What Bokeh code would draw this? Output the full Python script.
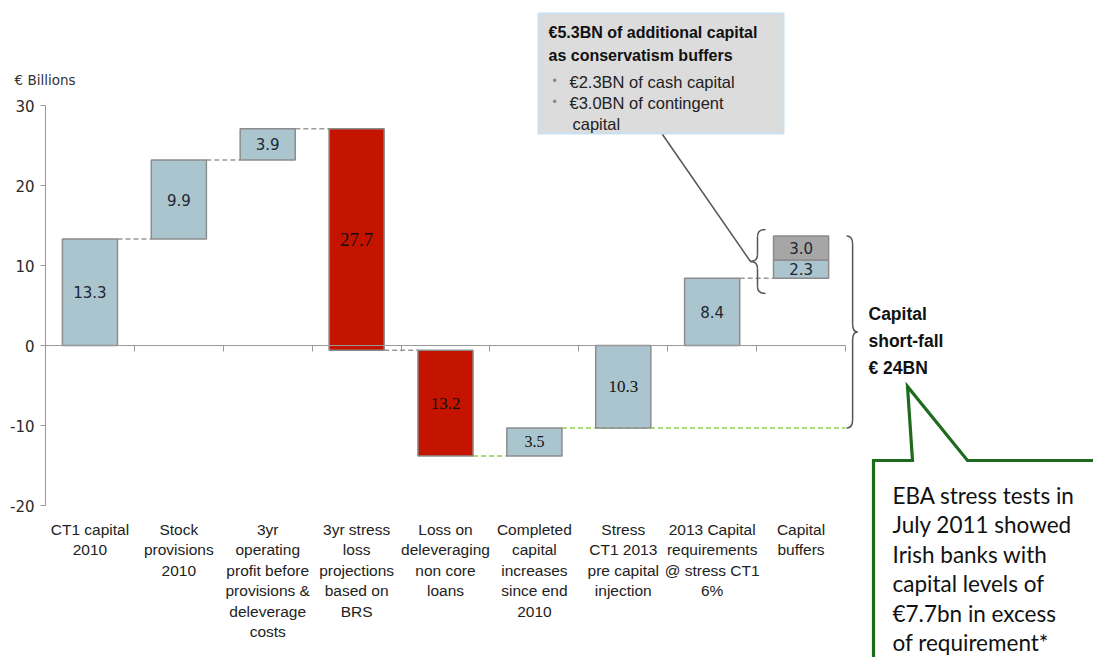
from bokeh.plotting import figure
from bokeh.models import Range1d, LinearAxis, FixedTicker, CustomJSTickFormatter
from bokeh.embed import file_html
from bokeh.resources import INLINE
from bokeh.core.properties import value

# ---------------- data ----------------
categories = [
    "CT1 capital\n2010",
    "Stock\nprovisions\n2010",
    "3yr\noperating\nprofit before\nprovisions &\ndeleverage\ncosts",
    "3yr stress\nloss\nprojections\nbased on\nBRS",
    "Loss on\ndeleveraging\nnon core\nloans",
    "Completed\ncapital\nincreases\nsince end\n2010",
    "Stress\nCT1 2013\npre capital\ninjection",
    "2013 Capital\nrequirements\n@ stress CT1\n6%",
    "Capital\nbuffers",
]
steps = [13.3, 9.9, 3.9, -27.7, -13.2, 3.5]      # waterfall movements (first six columns)
requirement = 8.4                                 # 2013 capital requirement
buffers = [2.3, 3.0]                              # cash capital, contingent capital
y_ticks = [-20, -10, 0, 10, 20, 30]

# ---------------- styles ----------------
BLUE = "#abc5cf"
RED = "#c41400"
GREY = "#a6a6a6"
EDGE = "#8c8c8c"
SANS = "Liberation Sans"
VERD = "DejaVu Sans"
SERIF = "Liberation Serif"

W, H = 1093, 657
LEFT = 45
PXX = 800 / 9.0        # pixels per category
PXY = 8.0              # pixels per unit
ZERO_PX = 345

def X(px):
    return (px - LEFT) / PXX

def Y(py):
    return (ZERO_PX - py) / PXY

p = figure(width=W, height=H, output_backend="svg", toolbar_location=None,
           x_range=Range1d(X(0), X(W)), y_range=Range1d(Y(H), Y(0)),
           x_axis_type=None, y_axis_type=None,
           min_border_left=0, min_border_right=0, min_border_top=0, min_border_bottom=0)
p.outline_line_color = None
p.grid.visible = False
p.background_fill_color = "white"
p.border_fill_color = "white"

# ---------------- waterfall geometry ----------------
n = len(categories)
centers = [i + 0.5 for i in range(n)]
bw = 0.62
bottoms, tops, colors, labels = [], [], [], []
cum = 0.0
levels = []
for v in steps:
    start = cum
    cum = round(cum + v, 2)
    bottoms.append(min(start, cum)); tops.append(max(start, cum))
    colors.append(BLUE if v > 0 else RED)
    labels.append(abs(v))
    levels.append(cum)
stress = cum
bottoms.append(min(0, stress)); tops.append(max(0, stress)); colors.append(BLUE); labels.append(abs(stress))
bottoms.append(0); tops.append(requirement); colors.append(BLUE); labels.append(requirement)

# connectors (drawn first, under bars)
conn_colors = ["#999999", "#999999", "#999999", "#999999", "#8fd14f", "#8fd14f"]
for i in range(len(steps) - 1):
    x0 = centers[i] + bw / 2
    x1 = centers[i + 1] - bw / 2
    p.line([x0, x1], [levels[i], levels[i]], line_color=conn_colors[i], line_dash="5 3", line_width=1.5)
p.line([centers[len(steps) - 1] + bw / 2, n], [stress, stress], line_color=conn_colors[-1],
       line_dash="5 3", line_width=1.5)
p.line([centers[7] + bw / 2, centers[8] - bw / 2], [requirement, requirement],
       line_color="#999999", line_dash="5 3", line_width=1.5)

p.vbar(x=centers[:8], width=bw, bottom=bottoms, top=tops, fill_color=colors,
       line_color=EDGE, line_width=1.5)

buf_bottoms, buf_tops = [], []
b = requirement
for v in buffers:
    buf_bottoms.append(b); b = round(b + v, 2); buf_tops.append(b)
buf_top = b
p.vbar(x=[centers[8]] * len(buffers), width=bw, bottom=buf_bottoms, top=buf_tops,
       fill_color=[BLUE, GREY], line_color=EDGE, line_width=1.5)

# value labels
serif_idx = {3, 4, 5, 6}
mid = [(bottoms[i] + tops[i]) / 2 for i in range(8)]
sx = [centers[i] for i in range(8) if i not in serif_idx]
sy = [mid[i] for i in range(8) if i not in serif_idx]
st = ["%.1f" % labels[i] for i in range(8) if i not in serif_idx]
p.text(x=sx, y=sy, text=st, text_font=value(VERD), text_font_size=value("15px"),
       text_align="center", text_baseline="middle", text_color="#1c2733")
serif_sizes = {3: "19px", 4: "17px", 5: "16px", 6: "17px"}
for i in sorted(serif_idx):
    p.text(x=[centers[i]], y=[mid[i]], text=["%.1f" % labels[i]], text_font=value(SERIF),
           text_font_size=value(serif_sizes[i]), text_align="center", text_baseline="middle",
           text_color="#111111")
p.text(x=[centers[8]] * len(buffers), y=[(a + c) / 2 for a, c in zip(buf_bottoms, buf_tops)],
       text=["%.1f" % v for v in buffers], text_font=value(VERD), text_font_size=value("15px"),
       text_align="center", text_baseline="middle", text_color="#1c2733")

# ---------------- axes ----------------
yax = LinearAxis(ticker=FixedTicker(ticks=y_ticks), bounds=(min(y_ticks), max(y_ticks)),
                 fixed_location=0,
                 formatter=CustomJSTickFormatter(code="return tick.toFixed(0);"))
yax.axis_line_color = "#9a9a9a"
yax.major_tick_line_color = "#9a9a9a"
yax.major_tick_out = 5
yax.major_tick_in = 0
yax.minor_tick_line_color = None
yax.major_label_text_font = VERD
yax.major_label_text_font_size = "15px"
yax.major_label_text_color = "#2a2a2a"
yax.major_label_standoff = 6
p.add_layout(yax, "left")

zax = LinearAxis(ticker=FixedTicker(ticks=list(range(1, n + 1))), bounds=(0, n), fixed_location=0)
zax.axis_line_color = "#9a9a9a"
zax.major_tick_line_color = "#9a9a9a"
zax.major_tick_out = 6
zax.major_tick_in = 0
zax.minor_tick_line_color = None
zax.major_label_text_color = None
p.add_layout(zax, "below")

cax = LinearAxis(ticker=FixedTicker(ticks=centers), fixed_location=min(y_ticks),
                 formatter=CustomJSTickFormatter(args=dict(cats=categories),
                                                 code="const i = Math.floor(tick); return (i >= 0 && i < cats.length) ? cats[i] : '';"))
cax.axis_line_color = None
cax.major_tick_line_color = None
cax.minor_tick_line_color = None
cax.major_label_text_font = SANS
cax.major_label_text_font_size = "15.5px"
cax.major_label_text_color = "#222222"
cax.major_label_text_line_height = 1.21
cax.major_label_standoff = 9
p.add_layout(cax, "below")

p.text(x=[X(14)], y=[Y(79)], text=["€ Billions"], text_font=value(VERD),
       text_font_size=value("13.5px"), text_color="#333333", text_baseline="alphabetic")

# ---------------- braces ----------------
def brace(xs, yt, yb, hook, tip, r, side, color="#555555"):
    ym = (yt + yb) / 2
    hx = xs - side * hook
    tx = xs + side * tip
    p.quadratic(x0=[hx, xs, tx, xs], y0=[yt, ym + r, ym, yb + r],
                x1=[xs, tx, xs, hx], y1=[yt - r, ym, ym - r, yb],
                cx=[xs, xs, xs, xs], cy=[yt, ym, ym, yb], line_color=color, line_width=1.5)
    p.segment(x0=[xs, xs], y0=[yt - r, ym - r], x1=[xs, xs], y1=[ym + r, yb + r],
              line_color=color, line_width=1.5)
    return tx, ym

bar_left = centers[8] - bw / 2
bar_right = centers[8] + bw / 2
sb_tip = brace(bar_left - 16 / PXX, buf_top + 0.8, requirement - 1.9, 8 / PXX, 7 / PXX, 7 / PXY, -1)
brace(bar_right + 24 / PXX, buf_top, stress, 6 / PXX, 5 / PXX, 8 / PXY, +1)

# ---------------- grey callout box ----------------
p.quad(left=[X(538)], right=[X(783)], top=[Y(13)], bottom=[Y(133)], fill_color="#dcdcdc",
       line_color="#c9e0ef", line_width=2)
p.line([X(662), sb_tip[0]], [Y(134), sb_tip[1]], line_color="#555555", line_width=1.5)
p.text(x=[X(548), X(548)], y=[Y(32), Y(55)],
       text=["€5.3BN of additional capital", "as conservatism buffers"],
       text_font=value(SANS), text_font_size=value("16px"), text_font_style="bold",
       text_color="#111111", text_baseline="alphabetic")
p.text(x=[X(569), X(569), X(572)], y=[Y(81), Y(102), Y(123)],
       text=["€2.3BN of cash capital", "€3.0BN of contingent", "capital"],
       text_font=value(SANS), text_font_size=value("16.5px"),
       text_color="#222222", text_baseline="alphabetic")
p.text(x=[X(552), X(552)], y=[Y(80), Y(101)], text=["•", "•"], text_font=value(SANS),
       text_font_size=value("12px"), text_color="#888888", text_baseline="alphabetic")

# ---------------- shortfall text ----------------
p.text(x=[X(868)] * 3, y=[Y(313), Y(340), Y(367)], text=["Capital", "short-fall", "€ 24BN"],
       text_font=value(SANS), text_font_size=value("17.5px"), text_font_style="bold",
       text_color="#111111", text_baseline="alphabetic")

# ---------------- green callout ----------------
p.line([X(873), X(873), X(912), X(907), X(967), X(1100)],
       [Y(670), Y(460), Y(460), Y(386), Y(460), Y(460)],
       line_color="#1e6b1e", line_width=3.2, line_join="miter")
green_lines = ["EBA stress tests in", "July 2011 showed", "Irish banks with",
               "capital levels of", "€7.7bn in excess", "of requirement*"]
p.text(x=[X(892)] * 6, y=[Y(495 + 29.4 * k) for k in range(6)], text=green_lines,
       text_font=value("Lato"), text_font_size=value("22.5px"), text_color="#111111",
       text_baseline="alphabetic")

open("out.html", "w").write(file_html(p, INLINE))
